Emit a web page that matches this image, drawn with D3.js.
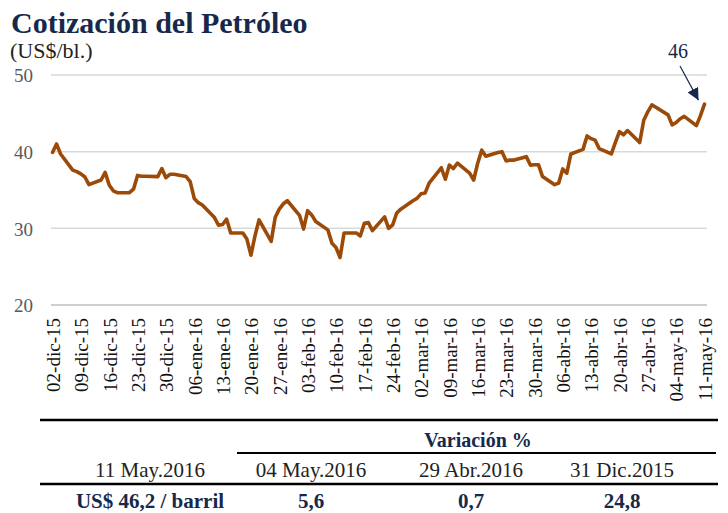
<!DOCTYPE html>
<html><head><meta charset="utf-8">
<script src="https://cdn.jsdelivr.net/npm/d3@7/dist/d3.min.js"></script>
<style>body{margin:0;background:#fff}svg{display:block}</style>
</head><body><svg id="c" width="728" height="513"></svg>
<script>
const dates = [
"2015-12-02","2015-12-03","2015-12-04","2015-12-07","2015-12-08","2015-12-09","2015-12-10","2015-12-11",
"2015-12-14","2015-12-15","2015-12-16","2015-12-17","2015-12-18","2015-12-21","2015-12-22","2015-12-23",
"2015-12-24","2015-12-25","2015-12-28","2015-12-29","2015-12-30","2015-12-31",
"2016-01-01","2016-01-04","2016-01-05","2016-01-06","2016-01-07","2016-01-08","2016-01-11","2016-01-12",
"2016-01-13","2016-01-14","2016-01-15","2016-01-18","2016-01-19","2016-01-20","2016-01-21","2016-01-22",
"2016-01-25","2016-01-26","2016-01-27","2016-01-28","2016-01-29",
"2016-02-01","2016-02-02","2016-02-03","2016-02-04","2016-02-05","2016-02-08","2016-02-09","2016-02-10",
"2016-02-11","2016-02-12","2016-02-15","2016-02-16","2016-02-17","2016-02-18","2016-02-19","2016-02-22",
"2016-02-23","2016-02-24","2016-02-25","2016-02-26","2016-02-29",
"2016-03-01","2016-03-02","2016-03-03","2016-03-04","2016-03-07","2016-03-08","2016-03-09","2016-03-10",
"2016-03-11","2016-03-14","2016-03-15","2016-03-16","2016-03-17","2016-03-18","2016-03-21","2016-03-22",
"2016-03-23","2016-03-24","2016-03-25","2016-03-28","2016-03-29","2016-03-30","2016-03-31",
"2016-04-01","2016-04-04","2016-04-05","2016-04-06","2016-04-07","2016-04-08","2016-04-11","2016-04-12",
"2016-04-13","2016-04-14","2016-04-15","2016-04-18","2016-04-19","2016-04-20","2016-04-21","2016-04-22",
"2016-04-25","2016-04-26","2016-04-27","2016-04-28","2016-04-29",
"2016-05-02","2016-05-03","2016-05-04","2016-05-05","2016-05-06","2016-05-09","2016-05-10","2016-05-11"];
const prices = [
39.9,41.0,39.7,37.6,37.4,37.1,36.7,35.7,
36.3,37.3,35.65,34.9,34.65,34.65,35.1,36.9,
36.8,36.8,36.75,37.8,36.6,37.05,
37.05,36.75,36.1,33.9,33.35,33.05,31.4,30.4,
30.5,31.2,29.4,29.4,28.6,26.5,29.0,31.1,
28.3,31.45,32.5,33.2,33.6,
31.7,29.9,32.3,31.75,30.9,29.8,28.05,27.5,
26.2,29.4,29.4,29.0,30.65,30.75,29.7,31.5,
30.0,30.45,32.0,32.5,33.6,
33.9,34.5,34.6,35.9,37.9,36.4,38.25,37.8,
38.5,37.2,36.3,38.5,40.2,39.4,39.9,40.0,
38.8,38.9,38.9,39.35,38.25,38.3,38.3,
36.75,35.7,35.9,37.75,37.2,39.7,40.3,42.05,
41.7,41.5,40.4,39.7,41.2,42.6,42.2,42.75,
41.2,44.1,45.2,46.1,45.8,
44.8,43.5,43.8,44.3,44.6,43.4,44.7,46.2];
const xTickLabels = ["02-dic-15","09-dic-15","16-dic-15","23-dic-15","30-dic-15","06-ene-16","13-ene-16",
"20-ene-16","27-ene-16","03-feb-16","10-feb-16","17-feb-16","24-feb-16","02-mar-16","09-mar-16","16-mar-16",
"23-mar-16","30-mar-16","06-abr-16","13-abr-16","20-abr-16","27-abr-16","04-may-16","11-may-16"];
const yTicks = [20,30,40,50];
const title = "Cotización del Petróleo";
const unit = "(US$/bl.)";
const lastLabel = "46";
const tableHeader = "Variación %";
const tableDates = ["11 May.2016","04 May.2016","29 Abr.2016","31 Dic.2015"];
const tableValues = ["US$ 46,2 / barril","5,6","0,7","24,8"];

const months = {ene:0,feb:1,mar:2,abr:3,may:4,jun:5,jul:6,ago:7,sep:8,oct:9,nov:10,dic:11};
const parseTick = s => { const [d,m,y] = s.split("-"); return new Date(2000+ +y, months[m], +d); };
const parse = d3.timeParse("%Y-%m-%d");
const data = dates.map((d,i)=>({date:parse(d), v:prices[i]}));

const svg = d3.select("#c");
const serif = "'Liberation Serif', 'DejaVu Serif', serif";
const navy = "#17294a";

const x = d3.scaleTime().domain([parse(dates[0]), parse(dates[dates.length-1])]).range([52.5, 704.5]);
const y = d3.scaleLinear().domain([20,50]).range([305,75]);

// title
svg.append("text").attr("x",11).attr("y",33).attr("font-family",serif).attr("font-weight","bold")
  .attr("font-size",30).attr("fill",navy).text(title);
svg.append("text").attr("x",10).attr("y",58).attr("font-family",serif)
  .attr("font-size",22).attr("fill","#222").text(unit);

// grid
svg.append("g").selectAll("line").data(yTicks).join("line")
  .attr("x1",51).attr("x2",707).attr("y1",d=>y(d)).attr("y2",d=>y(d))
  .attr("stroke",d=>d===20?"#bfbfbf":"#d9d9d9").attr("stroke-width",1.5);

// y axis labels
const yAxis = d3.axisLeft(y).tickValues(yTicks).tickSize(0).tickPadding(0);
const gy = svg.append("g").attr("transform","translate(33,0)").call(yAxis);
gy.select(".domain").remove();
gy.selectAll("text").attr("font-family",serif).attr("font-size",19).attr("fill","#595959").attr("dy","0.36em");

// x axis labels
const xAxis = d3.axisBottom(x).tickValues(xTickLabels.map(parseTick)).tickSize(0).tickPadding(0)
  .tickFormat((d,i)=>xTickLabels[i]);
const gx = svg.append("g").attr("transform","translate(0,318)").call(xAxis);
gx.select(".domain").remove();
gx.selectAll("text").attr("font-family",serif).attr("font-size",19).attr("fill","#111")
  .attr("transform","rotate(-90)").attr("text-anchor","end").attr("x",0).attr("y",0).attr("dy","0.36em");

// line
const line = d3.line().x(d=>x(d.date)).y(d=>y(d.v)).curve(d3.curveLinear);
svg.append("path").datum(data).attr("d",line).attr("fill","none").attr("stroke","#9c4a08")
  .attr("stroke-width",3.6).attr("stroke-linejoin","round").attr("stroke-linecap","round");

// annotation
const last = data[data.length-1];
svg.append("defs").append("marker").attr("id","ah").attr("viewBox","0 0 10 10").attr("refX",10).attr("refY",5)
  .attr("markerWidth",12).attr("markerHeight",12).attr("markerUnits","userSpaceOnUse").attr("orient","auto")
  .append("path").attr("d","M0,0L10,5L0,10z").attr("fill",navy);
const tipX = x(last.date)-6, tipY = y(last.v)-4;
svg.append("line").attr("x1",680).attr("y1",66).attr("x2",tipX).attr("y2",tipY)
  .attr("stroke",navy).attr("stroke-width",1.2).attr("marker-end","url(#ah)");
svg.append("text").attr("x",678).attr("y",58).attr("text-anchor","middle").attr("font-family",serif)
  .attr("font-size",20).attr("fill",navy).text(lastLabel);

// table
const colX = [150,311,471,622];
svg.append("line").attr("x1",40).attr("x2",718).attr("y1",420).attr("y2",420).attr("stroke","#000").attr("stroke-width",2.5);
svg.append("text").attr("x",478).attr("y",447).attr("text-anchor","middle").attr("font-family",serif)
  .attr("font-weight","bold").attr("font-size",20).attr("fill",navy).text(tableHeader);
svg.append("line").attr("x1",237).attr("x2",716).attr("y1",453).attr("y2",453).attr("stroke","#000").attr("stroke-width",2);
svg.selectAll(".td").data(tableDates).join("text").attr("class","td")
  .attr("x",(d,i)=>colX[i]).attr("y",477).attr("text-anchor","middle").attr("font-family",serif)
  .attr("font-size",21).attr("fill","#222").text(d=>d);
svg.append("line").attr("x1",40).attr("x2",718).attr("y1",484).attr("y2",484).attr("stroke","#000").attr("stroke-width",2.5);
svg.selectAll(".tv").data(tableValues).join("text").attr("class","tv")
  .attr("x",(d,i)=>colX[i]).attr("y",508).attr("text-anchor","middle").attr("font-family",serif)
  .attr("font-weight","bold").attr("font-size",21).attr("fill",navy).text(d=>d);
</script></body></html>
